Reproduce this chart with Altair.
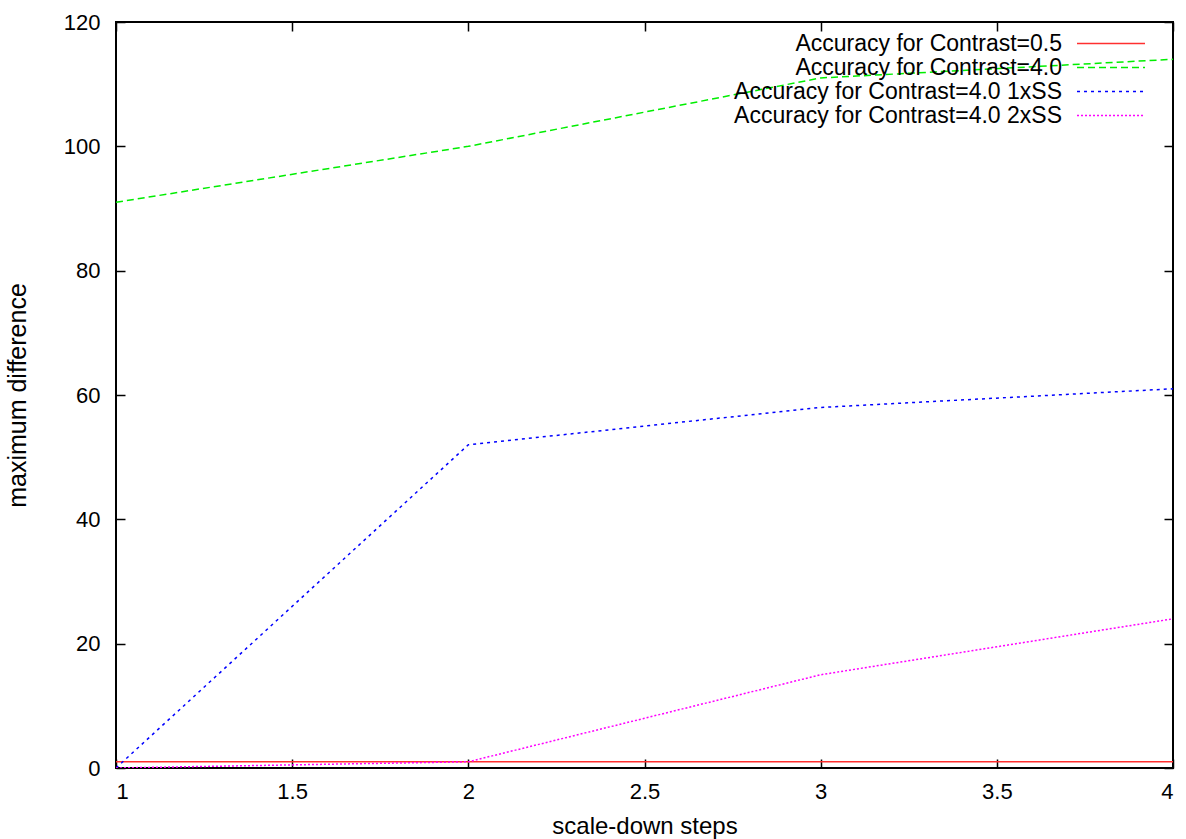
import altair as alt
import pandas as pd

# ---- data ----
steps = [1, 2, 3, 4]
acc_c05 = [1, 1, 1, 1]
acc_c40 = [91, 100, 111, 114]
acc_c40_1xss = [0, 52, 58, 61]
acc_c40_2xss = [0, 1, 15, 24]

series_names = [
    "Accuracy for Contrast=0.5",
    "Accuracy for Contrast=4.0",
    "Accuracy for Contrast=4.0 1xSS",
    "Accuracy for Contrast=4.0 2xSS",
]
series_colors = ["#ff3030", "#00ee00", "#0000ff", "#ff00ff"]
series_dashes = [[1, 0], [7, 4], [3, 4], [2, 2]]

x_ticks = [1, 1.5, 2, 2.5, 3, 3.5, 4]
y_ticks = [0, 20, 40, 60, 80, 100, 120]

rows = []
for name, vals in zip(series_names, [acc_c05, acc_c40, acc_c40_1xss, acc_c40_2xss]):
    for s, v in zip(steps, vals):
        rows.append({"step": s, "value": v, "series": name})
df = pd.DataFrame(rows)

FONT = "Liberation Sans"
xscale = alt.Scale(domain=[1, 4], nice=False, zero=False)
yscale = alt.Scale(domain=[0, 120], nice=False)

# legend sample line drawn to the right of the (right-aligned) label
legend = alt.Legend(
    title=None, orient="none", legendX=923, legendY=10, direction="vertical",
    symbolType="M13.25,0H47.25", symbolSize=16, symbolStrokeWidth=1.5,
    labelAlign="right", labelOffset=0, labelFontSize=23, labelFont=FONT,
    labelColor="black", labelLimit=500, rowPadding=0, padding=0,
)

base = alt.Chart(df)

lines = base.mark_line(strokeWidth=1.5, clip=True).encode(
    x=alt.X("step:Q", scale=xscale, axis=alt.Axis(
        orient="bottom", values=x_ticks, format="~g", title="scale-down steps",
        ticks=False, tickSize=0, domain=False, grid=False,
        labelPadding=13, titlePadding=12, labelFontSize=22, titleFontSize=24,
        labelFont=FONT, titleFont=FONT, titleFontWeight="normal",
        labelColor="black", titleColor="black")),
    y=alt.Y("value:Q", scale=yscale, axis=alt.Axis(
        orient="left", values=y_ticks, title="maximum difference",
        ticks=False, tickSize=0, domain=False, grid=False,
        labelPadding=16, titlePadding=33, labelFontSize=22, titleFontSize=25,
        labelFont=FONT, titleFont=FONT, titleFontWeight="normal",
        labelColor="black", titleColor="black")),
    color=alt.Color("series:N", sort=series_names,
                    scale=alt.Scale(domain=series_names, range=series_colors), legend=legend),
    strokeDash=alt.StrokeDash("series:N", sort=series_names,
                              scale=alt.Scale(domain=series_names, range=series_dashes), legend=legend),
)


def tick_axis(orient, values):
    return alt.Axis(orient=orient, offset=-9, tickSize=9, values=values, labels=False,
                    domain=False, grid=False, title=None, tickColor="black", tickWidth=1.5)


ticks_bl = base.mark_point(opacity=0).encode(
    x=alt.X("step:Q", scale=xscale, axis=tick_axis("bottom", x_ticks)),
    y=alt.Y("value:Q", scale=yscale, axis=tick_axis("left", y_ticks)),
)
ticks_tr = base.mark_point(opacity=0).encode(
    x=alt.X("step:Q", scale=xscale, axis=tick_axis("top", x_ticks)),
    y=alt.Y("value:Q", scale=yscale, axis=tick_axis("right", y_ticks)),
)

chart = alt.layer(lines, ticks_bl, ticks_tr).resolve_axis(
    x="independent", y="independent"
).properties(
    width=1057, height=746,
    autosize=alt.AutoSizeParams(type="none"),
    padding={"left": 116, "top": 22, "right": 13, "bottom": 71},
    background="white",
).configure_view(stroke="black", strokeWidth=2)

chart.save("out.html", embed_options={"renderer": "svg", "actions": False})
